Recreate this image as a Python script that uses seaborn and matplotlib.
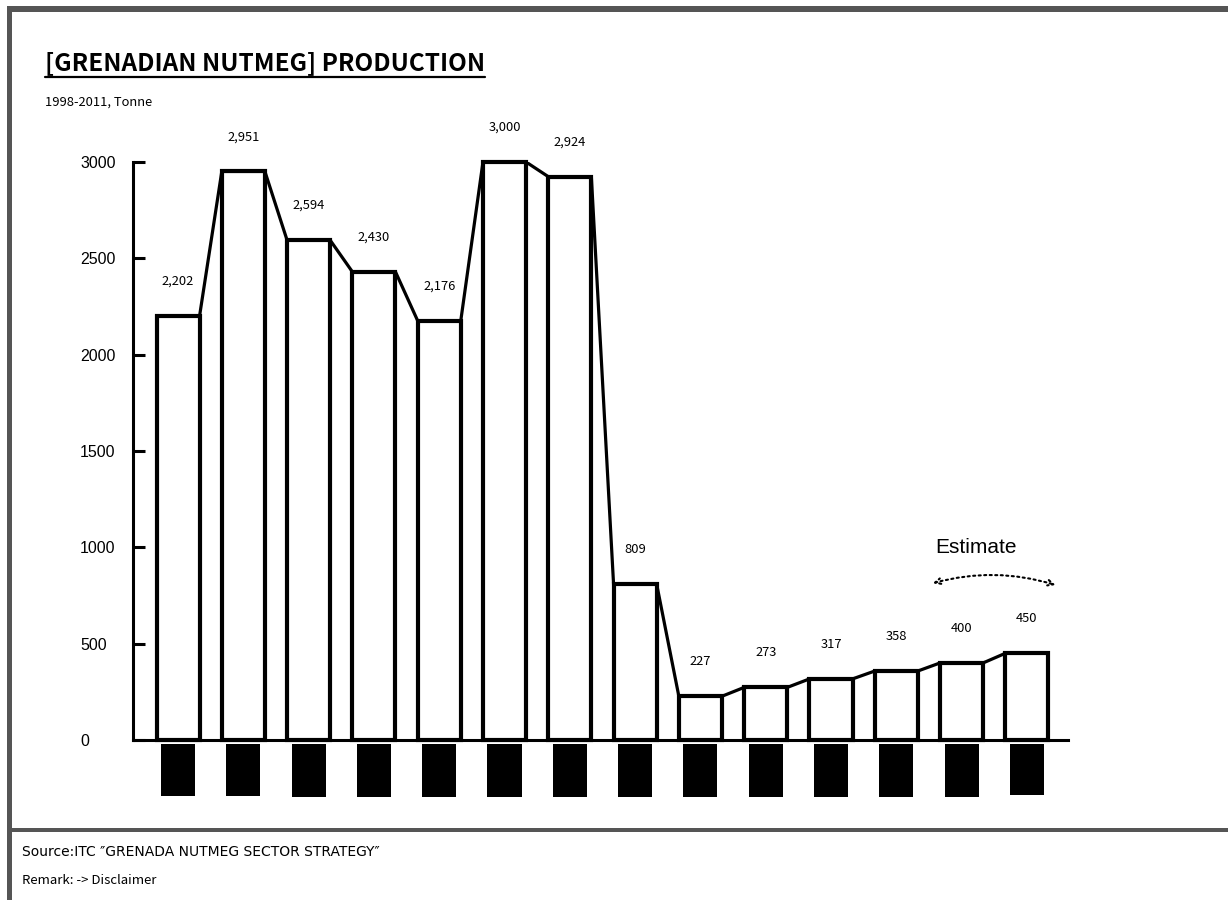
import numpy as np
import pandas as pd
import matplotlib.pyplot as plt
import seaborn as sns
from matplotlib.patches import Rectangle, FancyArrowPatch
from matplotlib.lines import Line2D
from matplotlib.transforms import IdentityTransform

years = ['1998', '1999', '2000', '2001', '2002', '2003', '2004',
         '2005', '2006', '2007', '2008', '2009', '2010', '2011']
production = [2202, 2951, 2594, 2430, 2176, 3000, 2924, 809, 227, 273, 317, 358, 400, 450]
yticks = [0, 500, 1000, 1500, 2000, 2500, 3000]

df = pd.DataFrame({'year': years, 'tonne': production})

sns.set_style('white')
plt.rcParams['font.family'] = ['Noto Sans CJK JP', 'DejaVu Sans']
plt.rcParams['text.color'] = 'black'
plt.rcParams['axes.edgecolor'] = 'black'
plt.rcParams['xtick.color'] = 'black'
plt.rcParams['ytick.color'] = 'black'

fig = plt.figure(figsize=(12.28, 9), dpi=100)
ax = fig.add_axes([133/1228, 1-740/900, (1068-133)/1228, (740-162)/900])

bw = 0.66
sns.barplot(data=df, x='year', y='tonne', color='white', saturation=1,
            edgecolor='black', linewidth=3, width=bw, ax=ax)

# line joining the bar tops
xs, ys = [], []
for i, v in enumerate(production):
    xs += [i - bw/2, i + bw/2]
    ys += [v, v]
ax.plot(xs, ys, color='black', lw=2.3, solid_joinstyle='miter')

for i, v in enumerate(production):
    ax.annotate(f'{v:,}', (i, v), xytext=(0, 25), textcoords='offset points',
                ha='center', va='center', fontsize=9.3)

ax.set_ylim(0, 3000)
ax.set_xlim(-0.69, 13.63)
ax.set_yticks(yticks)
ax.set_xlabel('')
ax.set_ylabel('')
sns.despine(ax=ax)
for s in ['left', 'bottom']:
    ax.spines[s].set_linewidth(2.2)
    ax.spines[s].set_clip_on(False)

ax.tick_params(axis='y', left=True, direction='in', length=8.6, width=2.2, pad=38,
               labelsize=11.5, colors='black')
for t in ax.get_yticklabels():
    t.set_horizontalalignment('left')
    t.set_family('Liberation Sans')

# year labels show up as solid black blocks in the original
ax.tick_params(axis='x', length=0, pad=10)
ax.set_xticks(range(len(years)))
ax.set_xticklabels(years, rotation=90, fontsize=10.5, color='black', family='Liberation Sans',
                   bbox=dict(facecolor='black', edgecolor='none', pad=7.2))

for p in ax.patches:
    p.set_clip_on(False)

# estimate marker
ax.text(12.22, 1000, 'Estimate', ha='center', va='center', fontsize=15,
        family='Liberation Sans')
arc = FancyArrowPatch((11.52, 810), (13.48, 800), connectionstyle='arc3,rad=-0.15',
                      arrowstyle='<->', mutation_scale=10, linestyle=':', lw=1.5,
                      color='black', clip_on=False)
ax.add_patch(arc)

# titles and notes
title = fig.text(45/1228, 1-63/900, '[GRENADIAN NUTMEG] PRODUCTION', fontsize=17.5,
                 fontweight='bold', va='center', ha='left')
fig.text(45/1228, 1-102/900, '1998-2011, Tonne', fontsize=9.3, va='center', ha='left')
fig.text(22/1228, 1-852/900, 'Source:ITC ″GRENADA NUTMEG SECTOR STRATEGY″', fontsize=10,
         va='center', ha='left', family=['DejaVu Sans'])
fig.text(22/1228, 1-880/900, 'Remark: -> Disclaimer', fontsize=9.5, va='center', ha='left')

# grey frame
grey = '#555555'
fig.add_artist(Rectangle((7/1228, 1-12/900), 1-7/1228, 6/900, transform=fig.transFigure,
                         facecolor=grey, edgecolor='none'))
fig.add_artist(Rectangle((7/1228, 0), 5/1228, 1-6/900, transform=fig.transFigure,
                         facecolor=grey, edgecolor='none'))
fig.add_artist(Rectangle((12/1228, 1-832/900), 1-12/1228, 4/900, transform=fig.transFigure,
                         facecolor=grey, edgecolor='none'))

# underline the title
fig.canvas.draw()
bb = title.get_window_extent()
fig.add_artist(Line2D([bb.x0, bb.x1], [bb.y0 - 2, bb.y0 - 2], transform=IdentityTransform(),
                      color='black', lw=1.6))

fig.savefig('out.png', dpi=100)
